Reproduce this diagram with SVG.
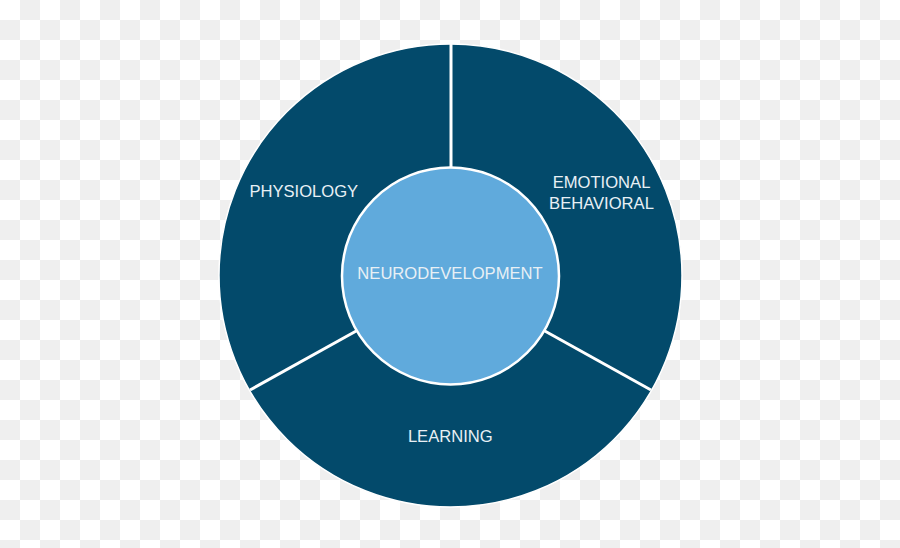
<svg xmlns="http://www.w3.org/2000/svg" width="900" height="548" viewBox="0 0 900 548">
<defs>
<pattern id="checker" x="0" y="0" width="40" height="40" patternUnits="userSpaceOnUse">
<rect width="40" height="40" fill="#ffffff"/>
<rect x="20" y="0" width="20" height="20" fill="#efefef"/>
<rect x="0" y="20" width="20" height="20" fill="#efefef"/>
</pattern>
</defs>
<style>
.lbl{font-family:"Liberation Sans",Arial,sans-serif;font-size:16.6px;fill:#e8f0f5;text-anchor:middle}
.div{stroke:#ffffff;stroke-width:3;fill:none}
</style>
<rect width="900" height="548" fill="url(#checker)"/>
<g id="outer-ring">
<circle cx="450.5" cy="275.5" r="231.5" fill="#034a6b" stroke="#ffffff" stroke-width="1.5"/>
</g>
<g id="connectors">
<line class="div" x1="451" y1="44" x2="451" y2="170"/>
<line class="div" x1="250" y1="390" x2="358" y2="330"/>
<line class="div" x1="651" y1="390" x2="543" y2="330"/>
</g>
<g id="physiology">
<text class="lbl" x="303.8" y="196.5">PHYSIOLOGY</text>
</g>
<g id="emotional-behavioral">
<text class="lbl" x="601.5" y="188.3">EMOTIONAL</text>
<text class="lbl" x="601.5" y="209">BEHAVIORAL</text>
</g>
<g id="learning">
<text class="lbl" x="450.3" y="442.3">LEARNING</text>
</g>
<g id="neurodevelopment">
<circle cx="450.5" cy="276" r="108.5" fill="#60aadc" stroke="#ffffff" stroke-width="2.5"/>
<text class="lbl" x="450" y="279.3">NEURODEVELOPMENT</text>
</g>
</svg>
